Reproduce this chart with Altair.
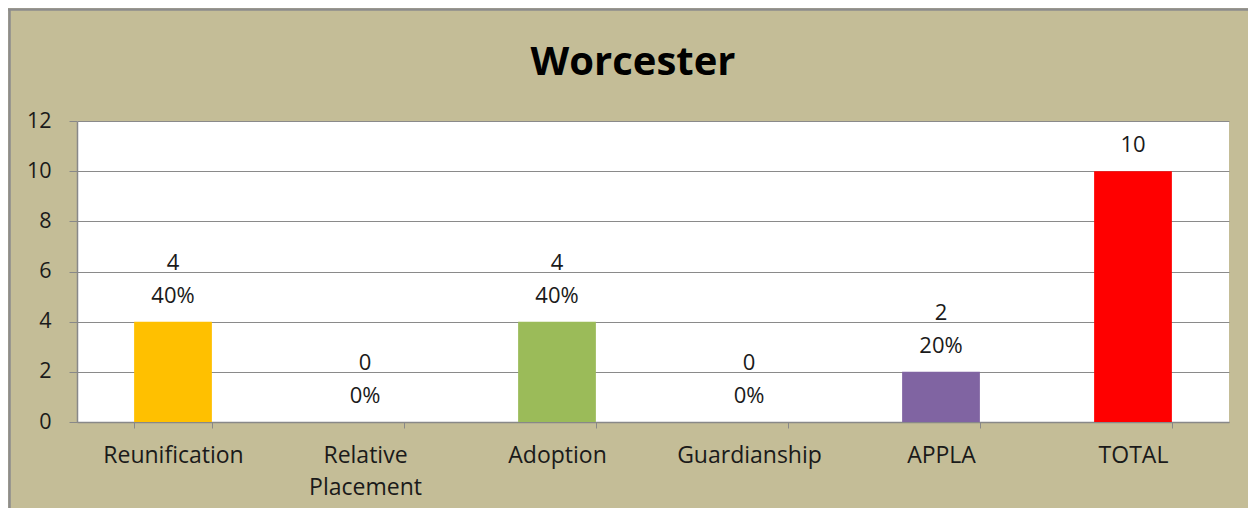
import altair as alt
import pandas as pd

title_text = "Worcester"
categories = ["Reunification", "Relative Placement", "Adoption", "Guardianship", "APPLA", "TOTAL"]
counts = [4, 0, 4, 0, 2, 10]
percents = ["40%", "0%", "40%", "0%", "20%", ""]
colors = ["#FFC000", "#4F81BD", "#9BBB59", "#4BACC6", "#8064A2", "#FF0000"]

df = pd.DataFrame({"category": categories, "count": counts, "pct": percents})

FONT = "Open Sans"
W, H = 1152, 301

x = alt.X(
    "category:N",
    sort=categories,
    title=None,
    scale=alt.Scale(paddingInner=0.595, paddingOuter=0.2975),
    axis=alt.Axis(
        labelAngle=0,
        labelFont=FONT,
        labelFontSize=23,
        labelColor="#1a1a1a",
        labelPadding=16.5,
        labelLineHeight=32,
        labelExpr="datum.label == 'Relative Placement' ? ['Relative', 'Placement'] : datum.label",
        tickBand="extent",
        tickSize=6,
        tickColor="#888888",
        domainColor="#888888",
        domainWidth=1.5,
        grid=False,
    ),
)

y = alt.Y(
    "count:Q",
    title=None,
    scale=alt.Scale(domain=[0, 12]),
    axis=alt.Axis(
        values=[0, 2, 4, 6, 8, 10, 12],
        labelFont=FONT,
        labelFontSize=21.5,
        labelColor="#1a1a1a",
        labelPadding=18,
        tickSize=8,
        tickColor="#888888",
        domainColor="#888888",
        domainWidth=1.5,
        gridColor="#8a8a8a",
        gridWidth=1.2,
    ),
)

xs = alt.X("category:N", sort=categories)

bars = alt.Chart(df).mark_bar().encode(
    x=x,
    y=y,
    color=alt.Color("category:N", scale=alt.Scale(domain=categories, range=colors), legend=None),
)

text_style = dict(baseline="bottom", font=FONT, fontSize=22, color="#1a1a1a")

pct_text = alt.Chart(df).transform_filter("datum.pct != ''").mark_text(dy=-14, **text_style).encode(
    x=xs, y="count:Q", text="pct:N"
)
count_text_two = alt.Chart(df).transform_filter("datum.pct != ''").mark_text(dy=-47, **text_style).encode(
    x=xs, y="count:Q", text="count:Q"
)
count_text_one = alt.Chart(df).transform_filter("datum.pct == ''").mark_text(dy=-14, **text_style).encode(
    x=xs, y="count:Q", text="count:Q"
)

title_df = pd.DataFrame({"t": [title_text]})
title_mark = alt.Chart(title_df).mark_text(
    font=FONT, fontSize=40, fontWeight="bold", color="#000000", baseline="middle", align="center"
).encode(x=alt.value(W / 2 - 20), y=alt.value(-58), text="t:N")

border_df = pd.DataFrame({"k": [0]})
left_border = alt.Chart(border_df).mark_rule(color="#8c8c8c", strokeWidth=2.5).encode(
    x=alt.value(-67.5), y=alt.value(-112), y2=alt.value(H + 90)
)
top_border = alt.Chart(border_df).mark_rule(color="#8c8c8c", strokeWidth=2.5).encode(
    x=alt.value(-69), x2=alt.value(W + 20), y=alt.value(-111.5)
)

chart = alt.layer(
    bars, pct_text, count_text_two, count_text_one, title_mark, left_border, top_border
).properties(
    width=W,
    height=H,
    autosize=alt.AutoSizeParams(type="none"),
    padding={"left": 69, "top": 113, "right": 19, "bottom": 86},
    background="#C4BD97",
).configure_view(fill="white", stroke=None)

chart.save("out.html", embed_options={"renderer": "svg", "actions": False})
